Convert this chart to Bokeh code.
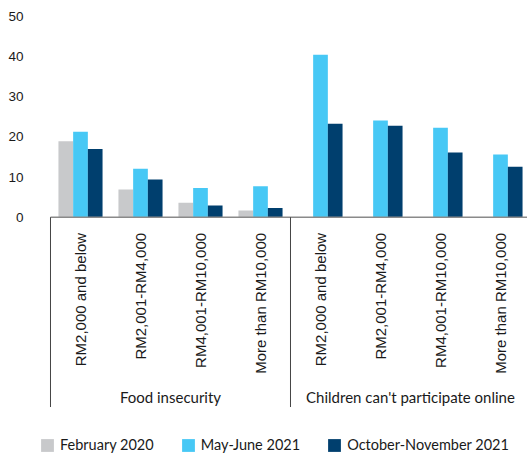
import numpy as np
from bokeh.plotting import figure
from bokeh.models import (ColumnDataSource, FixedTicker, Legend, LegendItem, Range1d)
from bokeh.core.properties import value
from bokeh.embed import file_html
from bokeh.resources import INLINE

# ---- data ----
groups = ["Food insecurity", "Children can't participate online"]
categories = ["RM2,000 and below", "RM2,001-RM4,000", "RM4,001-RM10,000", "More than RM10,000"]
series = ["February 2020", "May-June 2021", "October-November 2021"]
food_feb2020 = [18.9, 6.9, 3.6, 1.7]
food_mayjun2021 = [21.3, 12.1, 7.3, 7.7]
food_octnov2021 = [17.0, 9.4, 2.9, 2.3]
online_mayjun2021 = [40.5, 24.1, 22.3, 15.6]
online_octnov2021 = [23.3, 22.8, 16.1, 12.6]
y_ticks = [0, 10, 20, 30, 40, 50]

colors = ["#C8C9CB", "#47C8F5", "#003F6E"]
FONT = "Lato"
FONT2 = "Liberation Sans"
TXT = "#1a1a1a"

n = len(categories)
x_food = np.arange(n) + 0.5
x_online = np.arange(n) + n + 0.5
bw = 0.245

p = figure(width=527, height=455, output_backend="svg", toolbar_location=None,
           x_range=Range1d(-0.1833, 7.95), y_range=Range1d(-59.38, 54.0),
           min_border_left=39, min_border_right=0, min_border_top=0, min_border_bottom=0)
p.outline_line_color = None
p.xgrid.visible = False
p.ygrid.visible = False
p.xaxis.visible = False
p.yaxis.ticker = FixedTicker(ticks=y_ticks)
p.yaxis.axis_line_color = None
p.yaxis.major_tick_line_color = None
p.yaxis.minor_tick_line_color = None
p.yaxis.major_label_standoff = 10
p.yaxis.major_label_text_font = FONT2
p.yaxis.major_label_text_font_size = "13.5px"
p.yaxis.major_label_text_color = TXT

r_feb = p.vbar(x=x_food - bw, top=food_feb2020, width=bw, color=colors[0], line_color=None)
r_may = p.vbar(x=np.concatenate([x_food, x_online]), top=food_mayjun2021 + online_mayjun2021,
               width=bw, color=colors[1], line_color=None)
r_oct = p.vbar(x=np.concatenate([x_food, x_online]) + bw, top=food_octnov2021 + online_octnov2021,
               width=bw, color=colors[2], line_color=None)

# baseline
p.segment(x0=[0], y0=[0], x1=[2 * n], y1=[0], line_color="#8a8a8a", line_width=1.5)
# group dividers
p.segment(x0=[0, n], y0=[0, 0], x1=[0, n], y1=[-47.3, -47.3], line_color="#444444", line_width=1)

# category labels
cat_src = ColumnDataSource(dict(x=np.concatenate([x_food, x_online]), y=[-3.9] * (2 * n),
                                t=categories + categories))
p.text(x="x", y="y", text="t", source=cat_src, angle=np.pi / 2, text_align="right",
       text_baseline="middle", text_font=value(FONT2), text_font_size="15px", text_color=TXT)

# group labels
grp_src = ColumnDataSource(dict(x=[n / 2, n + n / 2], y=[-44.9, -44.9], t=groups))
p.text(x="x", y="y", text="t", source=grp_src, text_align="center", text_baseline="middle",
       text_font=value(FONT), text_font_size="15px", text_color=TXT)

legend = Legend(items=[LegendItem(label=series[0], renderers=[r_feb]),
                       LegendItem(label=series[1], renderers=[r_may]),
                       LegendItem(label=series[2], renderers=[r_oct])],
                orientation="horizontal", location=(0, 2), padding=0, margin=0,
                spacing=26, label_standoff=5, glyph_width=16, glyph_height=16,
                border_line_color=None, background_fill_alpha=0,
                label_text_font=FONT, label_text_font_size="14.5px", label_text_color=TXT)
p.add_layout(legend, "center")

open("out.html", "w").write(file_html(p, INLINE))
